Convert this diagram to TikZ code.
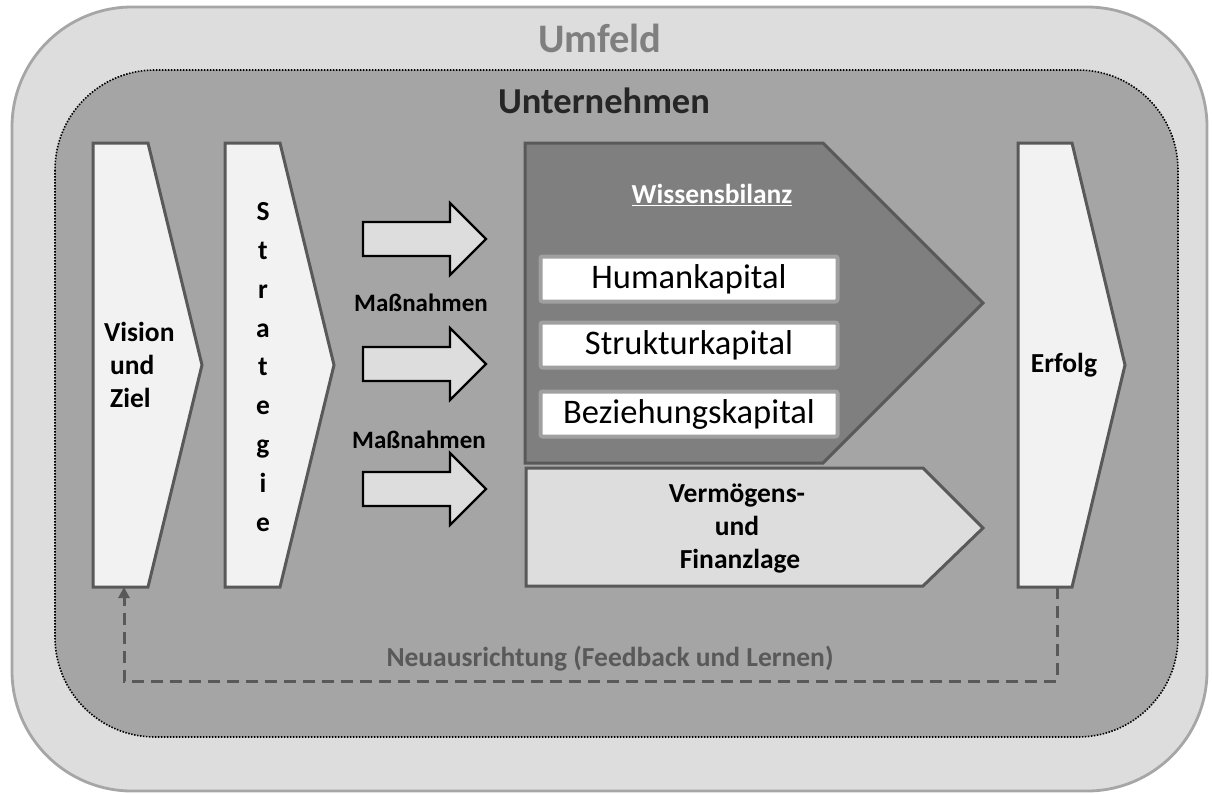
\documentclass[tikz,border=0pt]{standalone}
\usepackage{fontspec}
\setmainfont{Carlito}
\usetikzlibrary{arrows.meta}
\definecolor{outerfill}{HTML}{DDDDDD}
\definecolor{outerline}{HTML}{A6A6A6}
\definecolor{innerfill}{HTML}{A5A5A5}
\definecolor{chevfill}{HTML}{F2F2F2}
\definecolor{chevline}{HTML}{595959}
\definecolor{wbfill}{HTML}{7F7F7F}
\definecolor{lightfill}{HTML}{DDDDDD}
\definecolor{boxline}{HTML}{A0A0A0}
\definecolor{umfeldtxt}{HTML}{7F7F7F}
\definecolor{untxt}{HTML}{262626}
\definecolor{fbcol}{HTML}{595959}
\begin{document}
\begin{tikzpicture}[x=1pt,y=-1pt,
  outerbox/.style={fill=outerfill,draw=outerline,line width=2.8pt,rounded corners=120pt},
  innerbox/.style={fill=innerfill,draw=black,line width=1.6pt,dash pattern=on 1.5pt off 1.5pt,rounded corners=100pt},
  chev/.style={fill=chevfill,draw=chevline,line width=3pt},
  wbshape/.style={fill=wbfill,draw=chevline,line width=3pt},
  vfshape/.style={fill=lightfill,draw=chevline,line width=3pt},
  blockarrow/.style={fill=lightfill,draw=black,line width=2.2pt},
  kapbox/.style={fill=white,draw=boxline,line width=4pt,rounded corners=2pt,minimum width=297pt,minimum height=45pt,inner sep=0pt,font=\fontsize{34.5}{40}\selectfont},
  boldlbl/.style={font=\bfseries\fontsize{27.5}{33}\selectfont,text=black,inner sep=0pt},
  fb/.style={draw=fbcol,line width=3pt,dash pattern=on 12pt off 7pt}
]
\useasboundingbox (0,0) rectangle (1212,793);
% Umfeld / Unternehmen
\draw[outerbox] (12,7) rectangle (1207,791);
\draw[innerbox] (55,70) rectangle (1178,737);
\node[font=\bfseries\fontsize{40.5}{44}\selectfont,text=umfeldtxt,inner sep=0pt] (umfeld) at (600,38) {Umfeld};
\node[font=\bfseries\fontsize{36.5}{42}\selectfont,text=untxt,inner sep=0pt] (unternehmen) at (604,101) {Unternehmen};
% Vision
\draw[chev] (93,143) -- (148,143) -- (202,365) -- (148,587) -- (93,587) -- cycle;
\coordinate (vision-b) at (124,587);
\node[boldlbl,align=left,anchor=west] (vision) at (104,365) {Vision\\\hspace*{6pt}und\\\hspace*{6pt}Ziel};
% Strategie
\draw[chev] (225,143) -- (280,143) -- (334,365) -- (280,587) -- (225,587) -- cycle;
\node[boldlbl,align=center,font=\bfseries\fontsize{27.5}{38.8}\selectfont] (strategie) at (263,367) {S\\t\\r\\a\\t\\e\\g\\i\\e};
% Massnahmen block arrows
\foreach \c [count=\i] in {239,364,489} {
  \draw[blockarrow] (363,\c-17) -- (450,\c-17) -- (450,\c-36) -- (486,\c) coordinate (arr\i) -- (450,\c+36) -- (450,\c+17) -- (363,\c+17) -- cycle;
}
\node[boldlbl,font=\bfseries\fontsize{25}{30}\selectfont] (mn1) at (421,303) {Maßnahmen};
\node[boldlbl,font=\bfseries\fontsize{25}{30}\selectfont] (mn2) at (419,440) {Maßnahmen};
% Wissensbilanz
\draw[wbshape] (525,143) -- (823,143) -- (983,303) -- (823,463) -- (525,463) -- cycle;
\node[boldlbl,text=white] (wb) at (712,195) {\underline{Wissensbilanz}};
\node[kapbox] (human) at (689,279) {Humankapital};
\node[kapbox] (struktur) at (689,345) {Strukturkapital};
\node[kapbox] (bez) at (689,414) {Beziehungskapital};
% Vermoegens- und Finanzlage
\draw[vfshape] (526,468) -- (923,468) -- (983,528) -- (923,586) -- (526,586) -- cycle;
\node[boldlbl,align=center] (vf) at (737,529) {Vermögens-\\und\\\hspace*{6pt}Finanzlage};
% Erfolg
\draw[chev] (1018,143) -- (1072,143) -- (1125,365) -- (1072,587) -- (1018,587) -- cycle;
\coordinate (erfolg-b) at (1057,587);
\node[boldlbl] (erfolg) at (1064,365) {Erfolg};
% Feedback
\coordinate (fbcorner) at (1057,681);
\draw[fb,-{Triangle[length=11pt,width=11pt]}] (erfolg-b) -- (fbcorner) -| (vision-b);
\node[boldlbl,text=fbcol] (fbtxt) at (610,659) {Neuausrichtung (Feedback und Lernen)};
\end{tikzpicture}
\end{document}
